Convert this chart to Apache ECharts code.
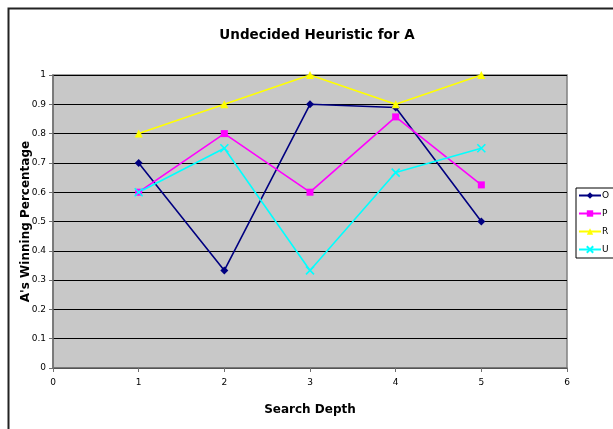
<!DOCTYPE html>
<html>
<head>
<meta charset="utf-8">
<script src="https://cdn.jsdelivr.net/npm/echarts@6/dist/echarts.min.js"></script>
<style>html,body{margin:0;padding:0;background:#fff;}#c{width:613px;height:429px;}</style>
</head>
<body>
<div id="c"></div>
<script>
var depths = [1, 2, 3, 4, 5];
var seriesNames = ['O', 'P', 'R', 'U'];
var valuesO = [0.7, 0.333, 0.9, 0.889, 0.5];
var valuesP = [0.6, 0.8, 0.6, 0.857, 0.625];
var valuesR = [0.8, 0.9, 1.0, 0.9, 1.0];
var valuesU = [0.6, 0.75, 0.333, 0.667, 0.75];
var colors = ['#000080', '#FF00FF', '#FFFF00', '#00FFFF'];
var symbols = ['diamond', 'rect', 'triangle', 'path://M0,0L10,10M10,0L0,10'];
var symbolSizes = [8, 7, 8, 8];

function pairs(vals) { return depths.map(function (d, i) { return [d, vals[i]]; }); }
var allValues = [valuesO, valuesP, valuesR, valuesU];

var chart = echarts.init(document.getElementById('c'), null, {renderer: 'canvas'});
var series = seriesNames.map(function (n, k) {
  var isX = k === 3;
  return {
    name: n,
    type: 'line',
    data: pairs(allValues[k]),
    symbol: symbols[k],
    symbolSize: symbolSizes[k],
    showAllSymbol: true,
    lineStyle: {color: colors[k], width: 1.6},
    itemStyle: isX ? {color: 'rgba(0,0,0,0)', borderColor: colors[k], borderWidth: 1.6} : {color: colors[k], borderColor: colors[k], borderWidth: 0},
    emphasis: {disabled: true},
    animation: false
  };
});

chart.setOption({
  animation: false,
  title: {
    text: 'Undecided Heuristic for A',
    left: 312, top: 23, textAlign: 'center',
    textStyle: {fontFamily: 'DejaVu Sans', fontWeight: 'bold', fontSize: 13.5, color: '#000'}
  },
  graphic: [{
    type: 'rect', left: 6, top: 6, z: -10,
    shape: {x: 0, y: 0, width: 640, height: 460},
    style: {fill: 'none', stroke: '#222', lineWidth: 2}
  }],
  legend: {
    orient: 'vertical',
    left: 576, top: 188,
    data: seriesNames,
    itemWidth: 22, itemHeight: 8, itemGap: 9,
    padding: [3, 10, 4, 2],
    borderColor: '#000', borderWidth: 1,
    backgroundColor: '#fff',
    textStyle: {fontFamily: 'DejaVu Sans', fontSize: 9, color: '#000', padding: [0, 0, 0, -4]}
  },
  grid: {
    left: 53, right: 46, top: 75, bottom: 61,
    show: true, backgroundColor: '#C8C8C8', borderColor: '#808080', borderWidth: 1.5
  },
  xAxis: {
    type: 'value', min: 0, max: 6, interval: 1,
    name: 'Search Depth', nameLocation: 'middle', nameGap: 36, nameMoveOverlap: false,
    nameTextStyle: {fontFamily: 'DejaVu Sans', fontWeight: 'bold', fontSize: 12, color: '#000'},
    axisLine: {show: true, lineStyle: {color: '#707070', width: 1.5}},
    axisTick: {show: true, inside: false, length: 4, lineStyle: {color: '#707070'}},
    axisLabel: {fontFamily: 'DejaVu Sans', fontSize: 9, color: '#000', margin: 10},
    splitLine: {show: false}
  },
  yAxis: {
    type: 'value', min: 0, max: 1, interval: 0.1,
    name: "A's Winning Percentage", nameLocation: 'middle', nameGap: 21, nameRotate: 90, nameMoveOverlap: false,
    nameTextStyle: {fontFamily: 'DejaVu Sans', fontWeight: 'bold', fontSize: 12, color: '#000'},
    axisLine: {show: true, lineStyle: {color: '#707070', width: 1.5}},
    axisTick: {show: true, inside: false, length: 4, lineStyle: {color: '#707070'}},
    axisLabel: {fontFamily: 'DejaVu Sans', fontSize: 9, color: '#000', margin: 7},
    splitLine: {show: true, lineStyle: {color: '#000', width: 1}}
  },
  series: series
});
</script>
</body>
</html>
